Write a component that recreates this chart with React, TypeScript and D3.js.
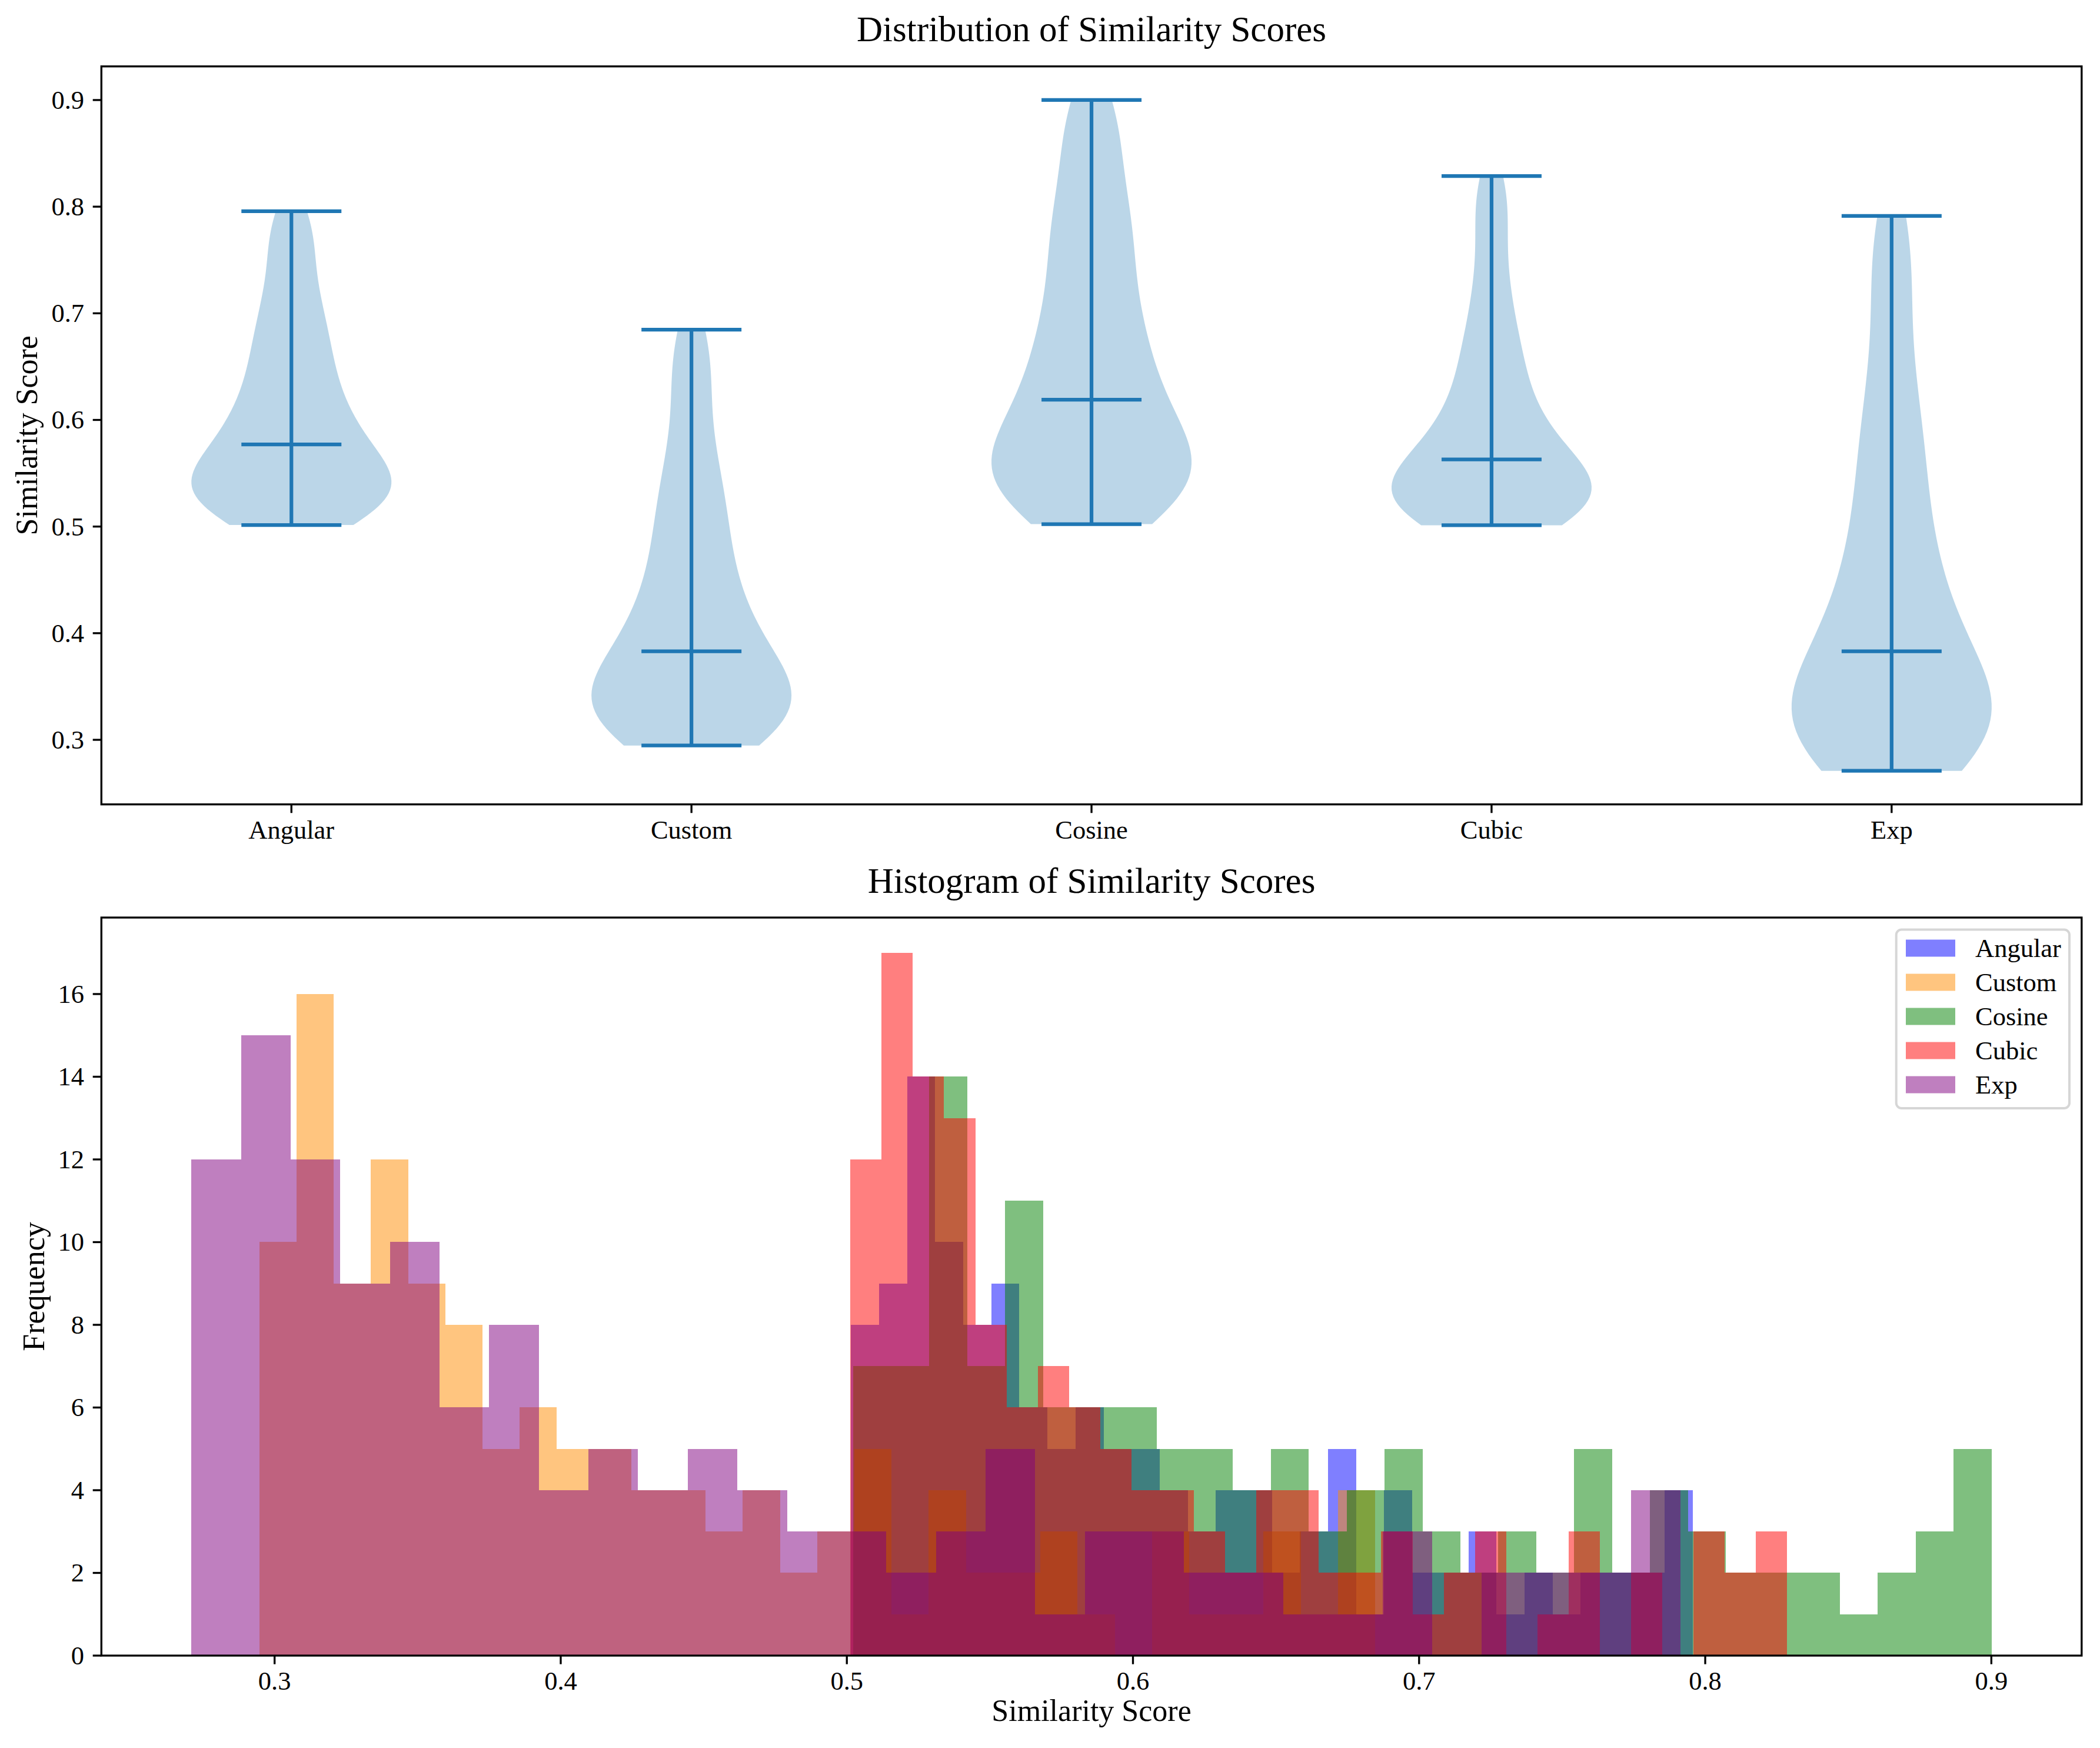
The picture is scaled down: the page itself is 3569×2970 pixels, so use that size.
import React from 'react';
import * as d3 from 'd3';

// ---------------- data ----------------
const categories = ['Angular', 'Custom', 'Cosine', 'Cubic', 'Exp'];
const seriesMin = [0.50144, 0.29466, 0.50226, 0.50123, 0.27092];
const seriesMax = [0.7957, 0.68462, 0.9001, 0.82867, 0.79132];
const medians = [0.577, 0.383, 0.619, 0.563, 0.383];

const angularCounts = [8, 9, 14, 10, 8, 9, 6, 5, 6, 5, 5, 4, 3, 4, 4, 2, 3, 5, 1, 4, 2, 2, 3, 1, 2, 1, 2, 2, 2, 4];
const customCounts = [10, 16, 9, 12, 9, 8, 5, 6, 5, 5, 4, 4, 3, 4, 2, 3, 5, 1, 4, 2, 2, 3, 1, 0, 3, 1, 1, 3, 1, 4];
const cosineCounts = [7, 7, 14, 7, 11, 6, 6, 6, 5, 5, 4, 5, 3, 4, 5, 3, 2, 3, 2, 5, 2, 4, 3, 2, 2, 2, 1, 2, 3, 5];
const cubicCounts = [12, 17, 14, 13, 8, 6, 7, 6, 5, 4, 4, 3, 2, 4, 4, 2, 2, 3, 1, 2, 3, 0, 1, 3, 0, 2, 0, 3, 2, 3];
const expCounts = [12, 15, 12, 9, 10, 6, 8, 4, 5, 4, 5, 4, 3, 3, 2, 3, 5, 1, 3, 3, 2, 2, 1, 1, 3, 0, 2, 2, 2, 4];
const allCounts = [angularCounts, customCounts, cosineCounts, cubicCounts, expCounts];

const histColors = ['#0000ff', '#ff8c00', '#008000', '#ff0000', '#800080'];
const violinYTicks = [0.3, 0.4, 0.5, 0.6, 0.7, 0.8, 0.9];
const histXTicks = [0.3, 0.4, 0.5, 0.6, 0.7, 0.8, 0.9];
const histYTicks = [0, 2, 4, 6, 8, 10, 12, 14, 16];

// ---------------- layout ----------------
const W = 3569;
const H = 2970;
const AX_L = 172.3;
const AX_R = 3537.8;
const TOP_T = 112.8;
const TOP_B = 1366.7;
const BOT_T = 1559;
const BOT_B = 2813;
const FONT = "'Liberation Serif', 'DejaVu Serif', serif";
const TICK = 14.6;
const SPINE = 3.33;
const VCOLOR = '#1f77b4';

const lo = Math.min(...seriesMin);
const hi = Math.max(...seriesMax);
const pad = (hi - lo) * 0.05;
const valueDomain: [number, number] = [lo - pad, hi + pad];

function binEdges(i: number) {
  const n = allCounts[i].length;
  const w = (seriesMax[i] - seriesMin[i]) / n;
  return d3.range(n + 1).map((k) => seriesMin[i] + k * w);
}

function violinProfile(i: number) {
  const counts = allCounts[i];
  const edges = binEdges(i);
  const samples: number[] = [];
  counts.forEach((c, k) => {
    const center = (edges[k] + edges[k + 1]) / 2;
    for (let j = 0; j < c; j++) samples.push(center);
  });
  const n = samples.length;
  const sd = d3.deviation(samples) || 1;
  const bw = Math.pow(n, -1 / 5) * sd;
  const coords = d3.range(100).map((k) => seriesMin[i] + (k / 99) * (seriesMax[i] - seriesMin[i]));
  const vals = coords.map((y) => {
    let s = 0;
    for (const x of samples) {
      const z = (y - x) / bw;
      s += Math.exp(-0.5 * z * z);
    }
    return s / (n * bw * Math.sqrt(2 * Math.PI));
  });
  const m = d3.max(vals) || 1;
  return coords.map((y, k) => ({ y, w: (vals[k] / m) * 0.25 }));
}

export default function App() {
  const xV = d3.scaleLinear().domain([0.75 - 0.225, 5.25 + 0.225]).range([AX_L, AX_R]);
  const yV = d3.scaleLinear().domain(valueDomain).range([TOP_B, TOP_T]);
  const xH = d3.scaleLinear().domain(valueDomain).range([AX_L, AX_R]);
  const maxCount = d3.max(allCounts.flat()) || 1;
  const yH = d3.scaleLinear().domain([0, maxCount * 1.05]).range([BOT_B, BOT_T]);

  const tickFs = 44.5;
  const labelFs = 52;
  const titleFs = 61;

  const spines = (t: number, b: number) => (
    <rect x={AX_L} y={t} width={AX_R - AX_L} height={b - t} fill="none" stroke="#000" strokeWidth={SPINE} />
  );

  return (
    <svg width={W} height={H} style={{ position: 'absolute', left: 0, top: 0, background: '#fff' }} fontFamily={FONT}>
      <rect x={0} y={0} width={W} height={H} fill="#fff" />

      {/* ---------- Violin panel ---------- */}
      {categories.map((c, i) => {
        const prof = violinProfile(i);
        const area = d3
          .area<{ y: number; w: number }>()
          .x0((d) => xV(i + 1 - d.w))
          .x1((d) => xV(i + 1 + d.w))
          .y((d) => yV(d.y));
        return <path key={'vb' + c} d={area(prof) || ''} fill={VCOLOR} fillOpacity={0.3} stroke="none" />;
      })}
      {categories.map((c, i) => {
        const pos = i + 1;
        const capW = 0.125;
        return (
          <g key={'vl' + c} stroke={VCOLOR} strokeWidth={6.25}>
            <line x1={xV(pos)} x2={xV(pos)} y1={yV(seriesMin[i])} y2={yV(seriesMax[i])} />
            {[seriesMin[i], seriesMax[i], medians[i]].map((v, k) => (
              <line key={k} x1={xV(pos - capW)} x2={xV(pos + capW)} y1={yV(v)} y2={yV(v)} />
            ))}
          </g>
        );
      })}
      {spines(TOP_T, TOP_B)}
      {violinYTicks.map((t) => (
        <g key={'vy' + t}>
          <line x1={AX_L - TICK} x2={AX_L} y1={yV(t)} y2={yV(t)} stroke="#000" strokeWidth={SPINE} />
          <text x={AX_L - 2 * TICK} y={yV(t) + 15} fontSize={tickFs} textAnchor="end">
            {t.toFixed(1)}
          </text>
        </g>
      ))}
      {categories.map((c, i) => (
        <g key={'vx' + c}>
          <line x1={xV(i + 1)} x2={xV(i + 1)} y1={TOP_B} y2={TOP_B + TICK} stroke="#000" strokeWidth={SPINE} />
          <text x={xV(i + 1)} y={TOP_B + 2 * TICK + 29} fontSize={tickFs} textAnchor="middle">
            {c}
          </text>
        </g>
      ))}
      <text x={(AX_L + AX_R) / 2} y={TOP_T - 42.5} fontSize={titleFs} textAnchor="middle">
        Distribution of Similarity Scores
      </text>
      <text
        transform={`translate(63, ${(TOP_T + TOP_B) / 2}) rotate(-90)`}
        fontSize={labelFs}
        textAnchor="middle"
      >
        Similarity Score
      </text>

      {/* ---------- Histogram panel ---------- */}
      <g shapeRendering="crispEdges">
        {allCounts.map((counts, i) => {
          const edges = binEdges(i);
          return (
            <g key={'h' + i} fill={histColors[i]} fillOpacity={0.5}>
              {counts.map((c, k) =>
                c > 0 ? (
                  <rect
                    key={k}
                    x={xH(edges[k])}
                    width={xH(edges[k + 1]) - xH(edges[k])}
                    y={yH(c)}
                    height={yH(0) - yH(c)}
                  />
                ) : null
              )}
            </g>
          );
        })}
      </g>
      {spines(BOT_T, BOT_B)}
      {histYTicks.map((t) => (
        <g key={'hy' + t}>
          <line x1={AX_L - TICK} x2={AX_L} y1={yH(t)} y2={yH(t)} stroke="#000" strokeWidth={SPINE} />
          <text x={AX_L - 2 * TICK} y={yH(t) + 15} fontSize={tickFs} textAnchor="end">
            {t}
          </text>
        </g>
      ))}
      {histXTicks.map((t) => (
        <g key={'hx' + t}>
          <line x1={xH(t)} x2={xH(t)} y1={BOT_B} y2={BOT_B + TICK} stroke="#000" strokeWidth={SPINE} />
          <text x={xH(t)} y={BOT_B + 2 * TICK + 29} fontSize={tickFs} textAnchor="middle">
            {t.toFixed(1)}
          </text>
        </g>
      ))}
      <text x={(AX_L + AX_R) / 2} y={BOT_T - 42.5} fontSize={titleFs} textAnchor="middle">
        Histogram of Similarity Scores
      </text>
      <text x={(AX_L + AX_R) / 2} y={2924} fontSize={labelFs} textAnchor="middle">
        Similarity Score
      </text>
      <text
        transform={`translate(75, ${(BOT_T + BOT_B) / 2}) rotate(-90)`}
        fontSize={labelFs}
        textAnchor="middle"
      >
        Frequency
      </text>

      {/* legend */}
      <g>
        <rect
          x={3222.7}
          y={1579.5}
          width={3517 - 3222.7}
          height={1883 - 1579.5}
          rx={9}
          ry={9}
          fill="#fff"
          fillOpacity={0.8}
          stroke="#cccccc"
          strokeOpacity={0.8}
          strokeWidth={4}
        />
        {categories.map((c, i) => {
          const cy = 1611 + i * 58;
          return (
            <g key={'lg' + c}>
              <rect x={3239} y={cy - 14.5} width={84} height={29} fill={histColors[i]} fillOpacity={0.5} />
              <text x={3357} y={cy + 14.5} fontSize={tickFs}>
                {c}
              </text>
            </g>
          );
        })}
      </g>
    </svg>
  );
}
